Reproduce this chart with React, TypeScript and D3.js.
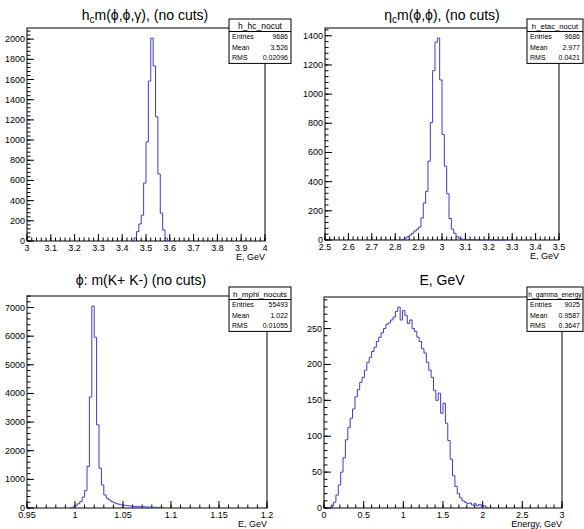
import React from 'react';
import * as d3 from 'd3';

const FONT = '"Liberation Sans", Arial, Helvetica, sans-serif';
const HIST = '#3c3cc6';

// h_hc_nocut : bins of 0.01 starting at 3.44
const hcStart = 3.44;
const hcWidth = 0.01;
const hcCounts = [5, 30, 93, 169, 256, 574, 982, 1585, 2010, 1734, 1231, 664, 276, 109, 27, 5];
const hcStats = [['Entries', '9686'], ['Mean', '3.526'], ['RMS', '0.02096']];

// h_etac_nocut : bins of 0.01 starting at 2.82
const etacStart = 2.82;
const etacWidth = 0.01;
const etacCounts = [2, 5, 12, 23, 34, 46, 62, 74, 88, 150, 253, 333, 540, 805, 1161, 1356, 1384, 1097, 724, 506,
  317, 147, 74, 46, 23, 12, 6, 5, 4, 3, 3, 2, 2, 1, 1, 1, 1, 1, 1, 1, 0, 0, 0, 0, 0, 1];
const etacStats = [['Entries', '9686'], ['Mean', '2.977'], ['RMS', '0.0421']];

// h_mphi_nocuts : bins of 0.0025 starting at 0.995
const phiStart = 0.995;
const phiWidth = 0.0025;
const phiCounts = [15, 40, 90, 150, 230, 380, 607, 1447, 3873, 7050, 5962, 2905, 1388, 805, 455, 340, 280, 220,
  180, 150, 130, 110, 100, 90, 75, 70, 60, 55, 50, 45, 40, 38, 35, 30, 28, 25, 22, 20, 18];
const phiStats = [['Entries', '55493'], ['Mean', '1.022'], ['RMS', '0.01055']];

// h_gamma_energy : bins of 0.03 starting at 0.09
const gamStart = 0.09;
const gamWidth = 0.03;
const gamCounts = [3, 8, 18, 32, 50, 70, 95, 112, 125, 138, 155, 165, 175, 182, 192, 203, 210, 218, 224, 232,
  238, 244, 250, 256, 258, 262, 266, 274, 280, 262, 275, 268, 257, 262, 250, 246, 238, 232, 222, 216,
  203, 192, 182, 164, 150, 160, 132, 146, 118, 94, 68, 45, 30, 20, 14, 10, 8, 6, 7, 4, 6, 3, 5, 2, 3, 1];
const gamStats = [['Entries', '9025'], ['Mean', '0.9587'], ['RMS', '0.3647']];

function stepTicks(lo: number, hi: number, step: number) {
  const n = Math.floor((hi - lo) / step + 1e-6);
  return d3.range(n + 1).map(i => +(lo + i * step).toFixed(6));
}

type Frame = { x0: number; x1: number; y0: number; y1: number };

function Panel(props: {
  frame: Frame;
  xDomain: [number, number];
  xMajor: number;
  xMinor: number;
  yMajor: number;
  yMinor: number;
  start: number;
  width: number;
  counts: number[];
  title: React.ReactNode;
  titleX: number;
  titleY: number;
  xTitle: string;
  statName: string;
  stats: string[][];
  box: { x0: number; x1: number; y0: number };
}) {
  const { frame, xDomain, start, width, counts, box } = props;
  const x = d3.scaleLinear().domain(xDomain).range([frame.x0, frame.x1]);
  const yMax = (d3.max(counts) as number) * 1.05;
  const y = d3.scaleLinear().domain([0, yMax]).range([frame.y1, frame.y0]);

  const pts: [number, number][] = [[start, 0]];
  counts.forEach((c, i) => {
    pts.push([start + i * width, c]);
    pts.push([start + (i + 1) * width, c]);
  });
  pts.push([start + counts.length * width, 0]);
  const line = d3.line<[number, number]>().x(d => x(d[0])).y(d => y(d[1]));

  const xMaj = stepTicks(xDomain[0], xDomain[1], props.xMajor);
  const xMin = stepTicks(xDomain[0], xDomain[1], props.xMinor);
  const yMaj = stepTicks(0, yMax, props.yMajor);
  const yMin = stepTicks(0, yMax, props.yMinor);
  const fmt = (v: number) => String(+v.toFixed(4));

  const headH = 12.5;
  const rowH = 10.3;
  const boxH = headH + rowH * props.stats.length + 1;
  const boxW = box.x1 - box.x0;
  const headSize = Math.min(8.5, (boxW - 6) / (props.statName.length * 0.54));

  return (
    <g>
      <text x={props.titleX} y={props.titleY} textAnchor="middle" fontSize={14} fontFamily={FONT}>
        {props.title}
      </text>
      <rect x={frame.x0} y={frame.y0} width={frame.x1 - frame.x0} height={frame.y1 - frame.y0}
        fill="none" stroke="#000" strokeWidth={1} />
      {xMin.map((v, i) => (
        <line key={'xm' + i} x1={x(v)} x2={x(v)} y1={frame.y1} y2={frame.y1 - 3.5} stroke="#000" />
      ))}
      {xMaj.map((v, i) => (
        <g key={'xM' + i}>
          <line x1={x(v)} x2={x(v)} y1={frame.y1} y2={frame.y1 - 7} stroke="#000" />
          <text x={x(v)} y={frame.y1 + 10} textAnchor="middle" fontSize={9} fontFamily={FONT}>{fmt(v)}</text>
        </g>
      ))}
      {yMin.map((v, i) => (
        <line key={'ym' + i} x1={frame.x0} x2={frame.x0 + 3.5} y1={y(v)} y2={y(v)} stroke="#000" />
      ))}
      {yMaj.map((v, i) => (
        <g key={'yM' + i}>
          <line x1={frame.x0} x2={frame.x0 + 7} y1={y(v)} y2={y(v)} stroke="#000" />
          <text x={frame.x0 - 2} y={y(v) + 3} textAnchor="end" fontSize={9} fontFamily={FONT}>{fmt(v)}</text>
        </g>
      ))}
      <text x={frame.x1} y={frame.y1 + 19} textAnchor="end" fontSize={9} fontFamily={FONT}>{props.xTitle}</text>
      <path d={line(pts) || ''} fill="none" stroke={HIST} strokeWidth={1} />
      <rect x={box.x0} y={box.y0} width={boxW} height={boxH} fill="#fff" stroke="#000" strokeWidth={1} />
      <line x1={box.x0} x2={box.x1} y1={box.y0 + headH} y2={box.y0 + headH} stroke="#000" />
      <text x={(box.x0 + box.x1) / 2} y={box.y0 + headH - 3} textAnchor="middle" fontSize={headSize} fontFamily={FONT}>
        {props.statName}
      </text>
      {props.stats.map((r, i) => (
        <g key={'s' + i}>
          <text x={box.x0 + 3} y={box.y0 + headH + rowH * (i + 1) - 2.5} fontSize={7} fontFamily={FONT}>{r[0]}</text>
          <text x={box.x1 - 3} y={box.y0 + headH + rowH * (i + 1) - 2.5} textAnchor="end" fontSize={7} fontFamily={FONT}>{r[1]}</text>
        </g>
      ))}
    </g>
  );
}

const sub = (s: string) => <tspan fontSize={10} dy={3}>{s}</tspan>;

export default function App() {
  return (
    <svg width={584} height={529} style={{ position: 'absolute', left: 0, top: 0, background: '#fff' }}>
      <Panel
        frame={{ x0: 27, x1: 265, y0: 28, y1: 241 }}
        xDomain={[3, 4]} xMajor={0.1} xMinor={0.02} yMajor={200} yMinor={40}
        start={hcStart} width={hcWidth} counts={hcCounts}
        title={<>h{sub('c')}<tspan dy={-3}>m(ϕ,ϕ,γ), (no cuts)</tspan></>}
        titleX={145} titleY={20} xTitle="E, GeV"
        statName="h_hc_nocut" stats={hcStats} box={{ x0: 229, x1: 291, y0: 19 }}
      />
      <Panel
        frame={{ x0: 325, x1: 559, y0: 28, y1: 240 }}
        xDomain={[2.5, 3.5]} xMajor={0.1} xMinor={0.02} yMajor={200} yMinor={40}
        start={etacStart} width={etacWidth} counts={etacCounts}
        title={<>η{sub('c')}<tspan dy={-3}>m(ϕ,ϕ), (no cuts)</tspan></>}
        titleX={442} titleY={20} xTitle="E, GeV"
        statName="h_etac_nocut" stats={etacStats} box={{ x0: 527, x1: 583, y0: 19 }}
      />
      <Panel
        frame={{ x0: 27, x1: 267, y0: 296, y1: 508 }}
        xDomain={[0.95, 1.2]} xMajor={0.05} xMinor={0.01} yMajor={1000} yMinor={200}
        start={phiStart} width={phiWidth} counts={phiCounts}
        title="ϕ: m(K+ K-) (no cuts)"
        titleX={141} titleY={285} xTitle="E, GeV"
        statName="h_mphi_nocuts" stats={phiStats} box={{ x0: 229, x1: 291, y0: 287 }}
      />
      <Panel
        frame={{ x0: 324, x1: 562, y0: 297, y1: 508 }}
        xDomain={[0, 3]} xMajor={0.5} xMinor={0.1} yMajor={50} yMinor={10}
        start={gamStart} width={gamWidth} counts={gamCounts}
        title="E, GeV"
        titleX={442} titleY={285} xTitle="Energy, GeV"
        statName="h_gamma_energy" stats={gamStats} box={{ x0: 527, x1: 583, y0: 287 }}
      />
    </svg>
  );
}
